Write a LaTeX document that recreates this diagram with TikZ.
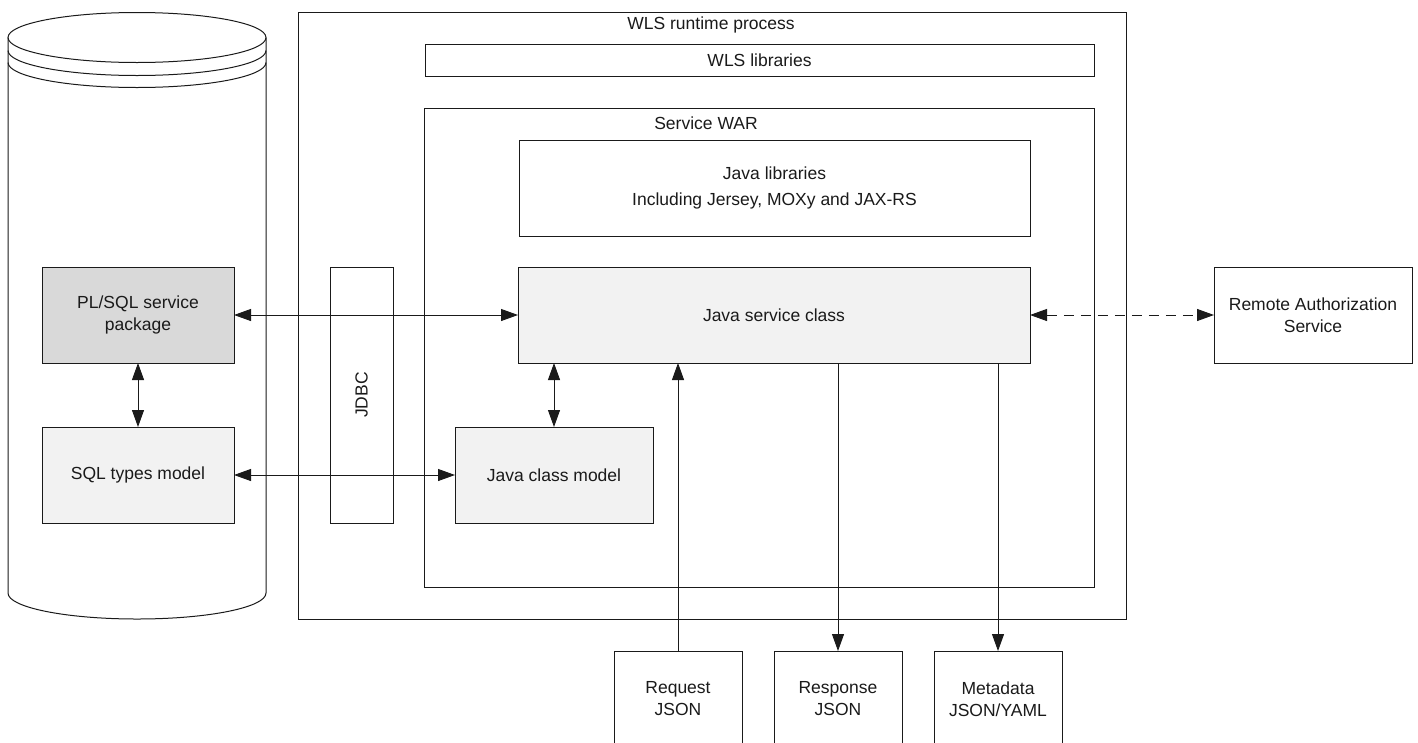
\documentclass[tikz,border=0pt]{standalone}
\usepackage{fontspec}
\setmainfont{Liberation Sans}
\usetikzlibrary{arrows.meta}
\definecolor{lightfill}{HTML}{F2F2F2}
\definecolor{darkfill}{HTML}{D9D9D9}
\definecolor{linecol}{HTML}{1A1A1A}
\begin{document}
\begin{tikzpicture}[x=1pt,y=-1pt,
  font=\fontsize{17.5}{22}\selectfont,
  every node/.style={text=linecol},
  box/.style={draw=linecol, line width=1pt, inner sep=0pt, outer sep=0pt, align=center},
  lbl/.style={inner sep=0pt, outer sep=0pt},
  conn/.style={draw=linecol, line width=1pt},
  dbl/.style={conn, {Triangle[length=17pt,width=12pt]}-{Triangle[length=17pt,width=12pt]}},
  onearr/.style={conn, -{Triangle[length=17pt,width=12pt]}},
  dsh/.style={dbl, dash pattern=on 10pt off 7pt}
]
\useasboundingbox (0,0) rectangle (1418,742);
\clip (0,0) rectangle (1418,742);

% database cylinder
\draw[linecol, line width=1pt] (137,37.5) ellipse [x radius=129pt, y radius=25pt];
\draw[linecol, line width=1pt] (8,50.5) arc[start angle=180, end angle=360, x radius=129pt, y radius=25pt];
\draw[linecol, line width=1pt] (8,62.5) arc[start angle=180, end angle=360, x radius=129pt, y radius=25pt];
\draw[linecol, line width=1pt] (8,37.5) -- (8,593) arc[start angle=180, end angle=360, x radius=129pt, y radius=26pt] -- (266,37.5);

% containers
\node[box, minimum width=828pt, minimum height=607pt] (wls) at (712,315.5) {};
\node[lbl] (wlslabel) at (711,25) {WLS runtime process};
\node[box, minimum width=669pt, minimum height=32pt] (wlslib) at (759.5,60) {WLS libraries};
\node[box, minimum width=670pt, minimum height=479pt] (war) at (759,347.5) {};
\node[lbl] (warlabel) at (706,123) {Service WAR};
\node[box, minimum width=511pt, minimum height=96pt] (jlib) at (774.5,188) {Java libraries\\[4pt]Including Jersey, MOXy and JAX-RS};
\node[box, fill=lightfill, minimum width=512pt, minimum height=96pt] (jsc) at (774,315) {Java service class};
\node[box, minimum width=63pt, minimum height=256pt] (jdbc) at (361.5,395) {};
\node[lbl, rotate=90] (jdbclabel) at (361.5,395) {JDBC};
\node[box, fill=darkfill, minimum width=192pt, minimum height=96pt] (plsql) at (138,315) {PL/SQL service\\package};
\node[box, fill=lightfill, minimum width=192pt, minimum height=96pt] (sqlt) at (138,475) {SQL types model};
\node[box, fill=lightfill, minimum width=198pt, minimum height=96pt] (jcm) at (554,475) {Java class model};
\node[box, minimum width=198pt, minimum height=96pt] (ras) at (1313,315) {Remote Authorization\\Service};
\node[box, minimum width=128pt, minimum height=96pt] (req) at (678,699) {Request\\JSON};
\node[box, minimum width=128pt, minimum height=96pt] (resp) at (838,699) {Response\\JSON};
\node[box, minimum width=128pt, minimum height=96pt] (meta) at (998,699) {Metadata\\JSON/YAML};

% connectors
\draw[dbl] (plsql.east) -- (jsc.west);
\draw[dbl] (sqlt.east) -- (jcm.west);
\draw[dbl] (plsql.south) -- (sqlt.north);
\draw[dbl] (jsc.south -| jcm.north) -- (jcm.north);
\draw[onearr] (req.north) -- (req.north |- jsc.south);
\draw[onearr] (resp.north |- jsc.south) -- (resp.north);
\draw[onearr] (meta.north |- jsc.south) -- (meta.north);
\draw[dsh] (jsc.east) -- (ras.west);
\end{tikzpicture}
\end{document}
